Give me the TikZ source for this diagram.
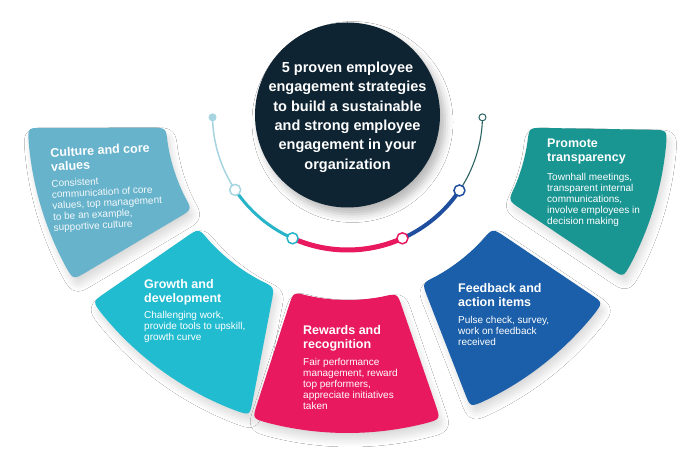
\documentclass[tikz,border=0pt]{standalone}
\usepackage{fontspec}
\setmainfont{Liberation Sans}
\usetikzlibrary{calc,shadows.blur}
\definecolor{cNavy}{HTML}{0E2433}
\definecolor{cCult}{HTML}{68B3CC}
\definecolor{cGrow}{HTML}{22BCD0}
\definecolor{cRewd}{HTML}{E8195F}
\definecolor{cFeed}{HTML}{1B5FAA}
\definecolor{cProm}{HTML}{199592}
\definecolor{cArcA}{HTML}{A6D5E1}
\definecolor{cArcB}{HTML}{27B4C8}
\definecolor{cArcD}{HTML}{1F4E9E}
\definecolor{cArcE}{HTML}{2A6362}
% #1 colour, #2 outer start angle, #3 outer end angle, #4 inner start, #5 inner end, #6 r in, #7 r out
\newcommand\mysector[7]{%
  \pgfmathsetmacro\rd{15}%
  \pgfmathsetmacro\di{\rd/#6*57.2958}%
  \pgfmathsetmacro\dout{\rd/#7*57.2958}%
  \pgfmathsetmacro\iaA{#4+\di}\pgfmathsetmacro\iaB{#5-\di}%
  \pgfmathsetmacro\oaA{#3-\dout}\pgfmathsetmacro\oaB{#2+\dout}%
  \coordinate (O1) at ($(C)+(#2:#7)$);
  \coordinate (I1) at ($(C)+(#4:#6)$);
  \coordinate (I2) at ($(C)+(#5:#6)$);
  \coordinate (O2) at ($(C)+(#3:#7)$);
  \fill[fill=#1, seg] ($(O1)!\rd pt!(I1)$) -- ($(I1)!\rd pt!(O1)$)
    .. controls (I1) .. ($(C)+(\iaA:#6)$)
    arc[start angle=\iaA, end angle=\iaB, radius=#6]
    .. controls (I2) .. ($(I2)!\rd pt!(O2)$) -- ($(O2)!\rd pt!(I2)$)
    .. controls (O2) .. ($(C)+(\oaA:#7)$)
    arc[start angle=\oaA, end angle=\oaB, radius=#7]
    .. controls (O1) .. ($(O1)!\rd pt!(I1)$) -- cycle;}
\begin{document}
\begin{tikzpicture}[x=1pt,y=1pt,
  seg/.style={blur shadow={shadow xshift=3pt, shadow yshift=-7pt, shadow blur radius=7pt, shadow opacity=15, shadow blur steps=14}},
  ttl/.style={anchor=north west, inner sep=0pt, align=left, text=white, font=\fontsize{12.5}{14}\selectfont\bfseries},
  bdy/.style={anchor=north west, inner sep=0pt, align=left, text=white, font=\fontsize{10}{11}\selectfont},
  junc/.style={circle, draw, fill=white, line width=1.5pt, minimum size=11pt, inner sep=0pt},
]
\useasboundingbox (0,0) rectangle (700,468);
\fill[white] (0,0) rectangle (700,468);
\coordinate (C) at (347.5,353);

% segments
\mysector{cCult}{182.3}{211}{184}{211.3}{182}{320}
\mysector{cGrow}{216.2}{252}{217.3}{247}{187}{316}
\mysector{cRewd}{252.6}{287}{253}{285.6}{185}{318}
\mysector{cFeed}{292.8}{323.7}{293.9}{322}{184}{317}
\mysector{cProm}{329.5}{357.3}{332}{356}{182}{320}

% central hub
\node[circle, fill=cNavy, minimum size=185pt, inner sep=0pt,
  blur shadow={shadow xshift=5pt, shadow yshift=-7pt, shadow blur radius=8pt, shadow opacity=28}] (hub) at (C) {};
\node[anchor=north, inner sep=0pt, align=center, text=white,
  font=\fontsize{14.5}{19.4}\selectfont\bfseries] (hubtext) at (347.5,406.4)
  {5 proven employee\\engagement strategies\\to build a sustainable\\and strong employee\\engagement in your\\organization};

% arc
\draw[cArcA, line width=1.5pt] ($(C)+(181:135)$) arc[start angle=181, end angle=213.7, radius=135];
\draw[cArcB, line width=3pt] ($(C)+(213.7:135)$) arc[start angle=213.7, end angle=246, radius=135];
\draw[cRewd, line width=5pt] ($(C)+(246:135)$) arc[start angle=246, end angle=294, radius=135];
\draw[cArcD, line width=4pt] ($(C)+(294:135)$) arc[start angle=294, end angle=326, radius=135];
\draw[cArcE, line width=1.1pt] ($(C)+(326:135)$) arc[start angle=326, end angle=359, radius=135];
\node[circle, fill=cArcA, minimum size=8pt, inner sep=0pt] (s0) at ($(C)+(181:135)$) {};
\node[circle, draw=cArcE, fill=white, line width=1pt, minimum size=7pt, inner sep=0pt] (s5) at ($(C)+(359:135)$) {};
\node[junc, draw=cArcA] (j1) at ($(C)+(213.7:135)$) {};
\node[junc, draw=cArcB] (j2) at ($(C)+(246:135)$) {};
\node[junc, draw=cRewd] (j3) at ($(C)+(294:135)$) {};
\node[junc, draw=cArcD] (j4) at ($(C)+(326:135)$) {};

% texts
\node[ttl, rotate=3] (t1) at (50,320) {Culture and core\\values};
\node[bdy, rotate=3, text opacity=0.92] (b1) at (51,288.2) {Consistent\\communication of core\\values, top management\\to be an example,\\supportive culture};
\node[ttl] (t2) at (144,189) {Growth and\\development};
\node[bdy] (b2) at (144,157.2) {Challenging work,\\provide tools to upskill,\\growth curve};
\node[ttl] (t3) at (303,143) {Rewards and\\recognition};
\node[bdy] (b3) at (303,110.2) {Fair performance\\management, reward\\top performers,\\appreciate initiatives\\taken};
\node[ttl] (t4) at (458,185) {Feedback and\\action items};
\node[bdy] (b4) at (458,152.2) {Pulse check, survey,\\work on feedback\\received};
\node[ttl] (t5) at (547,329) {Promote\\transparency};
\node[bdy] (b5) at (547,295.2) {Townhall meetings,\\transparent internal\\communications,\\involve employees in\\decision making};
\end{tikzpicture}
\end{document}
